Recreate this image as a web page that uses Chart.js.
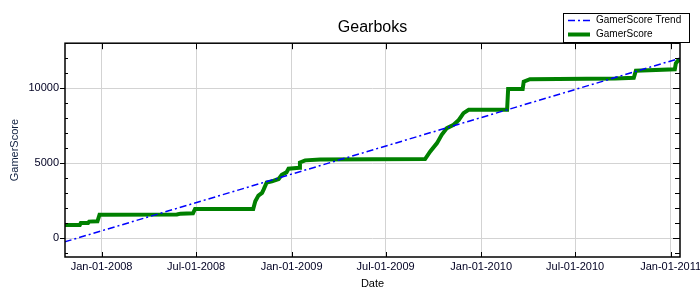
<!DOCTYPE html>
<html lang="en">
<head>
    <meta charset="UTF-8">
    <title>Gearboks</title>
    <script src="https://cdn.jsdelivr.net/npm/chart.js"></script>
    <style>
        body { margin: 0; background: #fff; }
        canvas { display: block; }
    </style>
</head>
<body>
    <canvas id="scoreChart" width="700" height="300"></canvas>

    <script>
        // Data
        const scoreDates = [
            '2007-10-22', '2007-11-20', '2007-11-22', '2007-12-06', '2007-12-08', '2007-12-24',
            '2007-12-28', '2008-05-25', '2008-06-01', '2008-06-25', '2008-06-29', '2008-10-19',
            '2008-10-23', '2008-10-29', '2008-11-05', '2008-11-08', '2008-11-14', '2008-11-24',
            '2008-12-07', '2008-12-13', '2008-12-22', '2008-12-26', '2009-01-16', '2009-01-17',
            '2009-01-27', '2009-02-25', '2009-09-15', '2009-09-25', '2009-10-08', '2009-10-17',
            '2009-10-27', '2009-11-09', '2009-11-19', '2009-11-28', '2009-12-08', '2010-02-20',
            '2010-02-22', '2010-03-22', '2010-03-24', '2010-04-05', '2010-09-16', '2010-10-22',
            '2010-10-26', '2011-01-09', '2011-01-11', '2011-01-15', '2011-01-19'
        ];
        const scores = [
            880, 880, 1020, 1020, 1110, 1130,
            1570, 1580, 1640, 1660, 1950, 1950,
            2460, 2840, 3020, 3240, 3720, 3790,
            3950, 4235, 4390, 4635, 4700, 5050,
            5190, 5250, 5280, 5785, 6340, 6895,
            7340, 7560, 7890, 8340, 8560, 8560,
            9950, 9950, 10440, 10600, 10650, 10700,
            11170, 11260, 11660, 11835, 11900
        ];
        const trendDates = ['2007-10-22', '2011-01-19'];
        const trendValues = [-240, 12000];

        const xTickDates = ['2008-01-01', '2008-07-01', '2009-01-01', '2009-07-01', '2010-01-01', '2010-07-01', '2011-01-01'];
        const yTicks = [0, 5000, 10000];
        const yMinorStep = 1000;

        const months = ['Jan', 'Feb', 'Mar', 'Apr', 'May', 'Jun', 'Jul', 'Aug', 'Sep', 'Oct', 'Nov', 'Dec'];
        const FONT = '"Liberation Sans", Arial, sans-serif';

        function toMs(s) {
            const p = s.split('-').map(Number);
            return Date.UTC(p[0], p[1] - 1, p[2]);
        }
        function fmtDate(ms) {
            const d = new Date(ms);
            const dd = String(d.getUTCDate()).padStart(2, '0');
            return months[d.getUTCMonth()] + '-' + dd + '-' + d.getUTCFullYear();
        }

        const scorePoints = scoreDates.map((d, i) => ({ x: toMs(d), y: scores[i] }));
        const trendPoints = trendDates.map((d, i) => ({ x: toMs(d), y: trendValues[i] }));

        // frame, tick marks and legend box
        const framePlugin = {
            id: 'frame',
            afterDraw(chart) {
                const { ctx, chartArea: a, scales } = chart;
                const xs = scales.x, ys = scales.y;
                ctx.save();
                ctx.strokeStyle = '#000';
                ctx.lineWidth = 1;
                ctx.beginPath();
                // x ticks, bottom and top, inward
                xTickDates.forEach(d => {
                    const px = Math.round(xs.getPixelForValue(toMs(d))) + 0.5;
                    ctx.moveTo(px, a.bottom); ctx.lineTo(px, a.bottom - 5);
                    ctx.moveTo(px, a.top); ctx.lineTo(px, a.top + 6);
                });
                // y ticks
                for (let v = Math.ceil(ys.min / yMinorStep) * yMinorStep; v <= ys.max; v += yMinorStep) {
                    const py = Math.round(ys.getPixelForValue(v)) + 0.5;
                    const major = yTicks.includes(v);
                    if (major) {
                        ctx.moveTo(a.left - 5, py); ctx.lineTo(a.left, py);
                        ctx.moveTo(a.right, py); ctx.lineTo(a.right - 7, py);
                    } else {
                        ctx.moveTo(a.left, py); ctx.lineTo(a.left + 3, py);
                        ctx.moveTo(a.right, py); ctx.lineTo(a.right - 5, py);
                    }
                }
                ctx.stroke();
                ctx.lineWidth = 1.5;
                ctx.strokeRect(a.left, a.top, a.right - a.left, a.bottom - a.top);

                // legend
                const lx = 563, ly = 13, lw = 126, lh = 29;
                ctx.fillStyle = '#fff';
                ctx.fillRect(lx, ly, lw, lh);
                ctx.lineWidth = 1;
                ctx.strokeRect(lx + 0.5, ly + 0.5, lw, lh);
                ctx.font = '10px ' + FONT;
                ctx.textBaseline = 'middle';
                chart.data.datasets.forEach((ds, i) => {
                    const yy = ly + 7.5 + i * 14;
                    ctx.strokeStyle = ds.borderColor;
                    ctx.lineWidth = ds.borderWidth;
                    ctx.setLineDash(ds.borderDash || []);
                    ctx.beginPath();
                    ctx.moveTo(lx + 5, yy); ctx.lineTo(lx + 27, yy);
                    ctx.stroke();
                    ctx.setLineDash([]);
                    ctx.fillStyle = '#000';
                    ctx.fillText(ds.label, lx + 33, yy);
                });
                ctx.restore();
            }
        };

        const scoreCtx = document.getElementById('scoreChart').getContext('2d');
        const scoreChart = new Chart(scoreCtx, {
            type: 'line',
            data: {
                datasets: [{
                    label: 'GamerScore Trend',
                    data: trendPoints,
                    borderColor: '#0000ff',
                    borderWidth: 1.5,
                    borderDash: [7, 3, 2, 3],
                    pointRadius: 0,
                    fill: false
                }, {
                    label: 'GamerScore',
                    data: scorePoints,
                    borderColor: '#008000',
                    borderWidth: 4,
                    pointRadius: 0,
                    fill: false
                }]
            },
            options: {
                responsive: false,
                animation: false,
                devicePixelRatio: 1,
                layout: { padding: { left: 0, right: 20, top: 0, bottom: 0 } },
                plugins: {
                    legend: { display: false },
                    tooltip: { enabled: false },
                    title: {
                        display: true,
                        text: 'Gearboks',
                        fullSize: false,
                        color: '#000',
                        font: { family: FONT, size: 16, weight: 'normal' },
                        padding: { top: 18, bottom: 6 }
                    }
                },
                scales: {
                    x: {
                        type: 'linear',
                        min: Date.UTC(2007, 9, 22, 12),
                        max: Date.UTC(2011, 0, 19),
                        border: { display: false },
                        grid: { color: '#d3d3d3', drawTicks: false },
                        ticks: {
                            autoSkip: false,
                            maxRotation: 0,
                            padding: 3,
                            color: '#000022',
                            font: { family: FONT, size: 11 },
                            callback: v => fmtDate(v)
                        },
                        title: {
                            display: true,
                            text: 'Date',
                            color: '#000',
                            font: { family: FONT, size: 11 },
                            padding: { top: 9.4, bottom: 9.4 }
                        },
                        afterBuildTicks: s => { s.ticks = xTickDates.map(d => ({ value: toMs(d) })); },
                        afterFit: s => { s.height = 43; s.paddingLeft = 0; s.paddingRight = 0; }
                    },
                    y: {
                        min: -1250,
                        max: 13000,
                        border: { display: false },
                        grid: { color: '#d3d3d3', drawTicks: false },
                        ticks: {
                            padding: 6,
                            color: '#000022',
                            font: { family: FONT, size: 11 },
                            callback: v => String(v)
                        },
                        title: {
                            display: true,
                            text: 'GamerScore',
                            color: '#102040',
                            font: { family: FONT, size: 11 },
                            padding: { top: 8.4, bottom: 8.4 }
                        },
                        afterBuildTicks: s => { s.ticks = yTicks.map(v => ({ value: v })); },
                        afterFit: s => { s.width = 65; s.paddingTop = 0; s.paddingBottom = 0; }
                    }
                }
            },
            plugins: [framePlugin]
        });
    </script>
</body>
</html>
